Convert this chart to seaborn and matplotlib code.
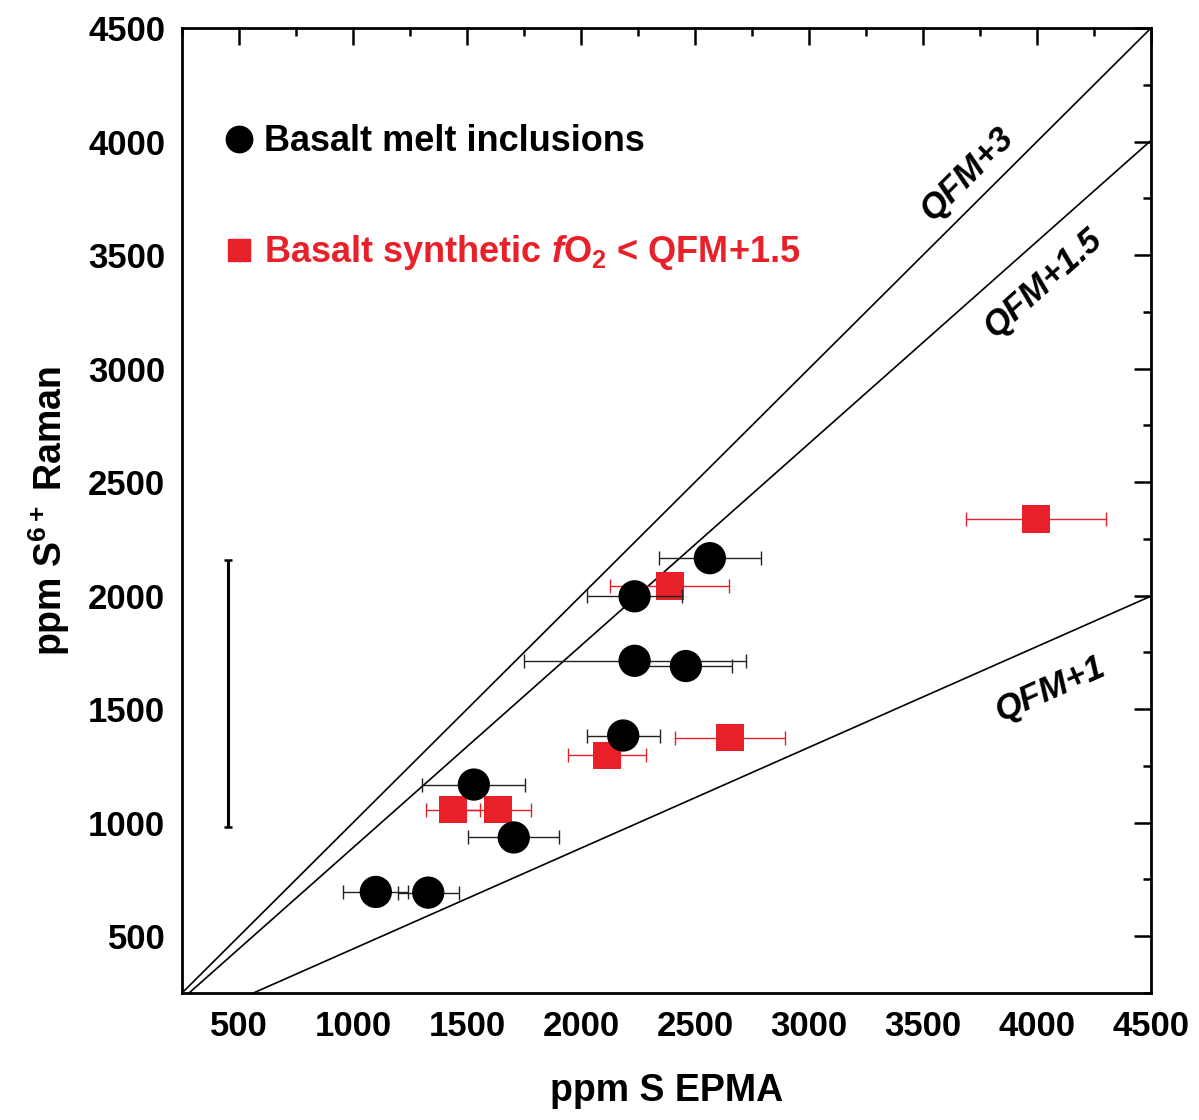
import numpy as np
import pandas as pd
import matplotlib
matplotlib.use("Agg")
import matplotlib.pyplot as plt
from matplotlib.lines import Line2D
from matplotlib.ticker import MultipleLocator
import seaborn as sns

# ---- data ----
melt_x = [2565, 2235, 2235, 2460, 2185, 1530, 1705, 1100, 1330]
melt_y = [2165, 1997, 1713, 1690, 1384, 1168, 935, 695, 692]
melt_xerr = [225, 210, 487, 202, 160, 226, 200, 143, 134]

syn_x = [3995, 2390, 2653, 2114, 1439, 1636]
syn_y = [2337, 2043, 1375, 1296, 1058, 1058]
syn_xerr = [307, 261, 241, 171, 120, 145]

rep_x = [452]
rep_y = [1570]
rep_yerr = [587]

qfm_labels = ["QFM+3", "QFM+1.5", "QFM+1"]
qfm_slopes = [1.0, 0.89, 0.444]
qfm_label_x = [3693, 4026, 4057]
qfm_label_y = [3858, 3375, 1586]
qfm_label_rot = [45, 41.6, 24]

x_ticks = [500, 1000, 1500, 2000, 2500, 3000, 3500, 4000, 4500]
y_ticks = [500, 1000, 1500, 2000, 2500, 3000, 3500, 4000, 4500]

RED = "#e8202a"

sns.set_theme(style="white")
plt.rcParams['font.family'] = ['Liberation Sans', 'DejaVu Sans']
plt.rcParams['text.color'] = 'black'
plt.rcParams['axes.labelcolor'] = 'black'
plt.rcParams['xtick.color'] = 'black'
plt.rcParams['ytick.color'] = 'black'
plt.rcParams['mathtext.fontset'] = 'custom'
plt.rcParams['mathtext.rm'] = 'Liberation Sans:bold'
plt.rcParams['mathtext.it'] = 'Liberation Sans:bold:italic'
plt.rcParams['mathtext.bf'] = 'Liberation Sans:bold'

fig = plt.figure(figsize=(11.99, 11.2), dpi=100)
ax = fig.add_axes([0.1518, 0.1134, 0.8082, 0.8616])

# reference lines
for s in qfm_slopes:
    ax.axline((0, 0), slope=s, color="black", lw=1.2, zorder=1)

# error bars
ax.errorbar(syn_x, syn_y, xerr=syn_xerr, fmt="none", ecolor=RED, elinewidth=1.0,
            capsize=5, capthick=1.0, zorder=2)
ax.errorbar(melt_x, melt_y, xerr=melt_xerr, fmt="none", ecolor="#222222", elinewidth=1.0,
            capsize=5, capthick=1.0, zorder=4)
ax.errorbar(rep_x, rep_y, yerr=rep_yerr, fmt="none", ecolor="black", elinewidth=2.2,
            capsize=3, capthick=1.8, zorder=4)

syn_df = pd.DataFrame({"x": syn_x, "y": syn_y})
melt_df = pd.DataFrame({"x": melt_x, "y": melt_y})
sns.scatterplot(data=syn_df, x="x", y="y", marker="s", s=400, color=RED,
                edgecolor="none", linewidth=0, ax=ax, zorder=3)
sns.scatterplot(data=melt_df, x="x", y="y", marker="o", s=540, color="black",
                edgecolor="none", linewidth=0, ax=ax, zorder=5)

# line labels
for lab, lx, ly, rot in zip(qfm_labels, qfm_label_x, qfm_label_y, qfm_label_rot):
    ax.text(lx, ly, lab, rotation=rot, ha="center", va="center", fontsize=25,
            fontweight="bold", fontstyle="italic", rotation_mode="anchor", color="black")

# legend
handles = [
    Line2D([], [], marker="o", color="black", linestyle="none", markersize=19),
    Line2D([], [], marker="s", color=RED, linestyle="none", markersize=16.5),
]
labels = ["Basalt melt inclusions", r"Basalt synthetic $\mathit{f}$O$_{2}$ < QFM+1.5"]
leg = ax.legend(handles, labels, loc="upper left", bbox_to_anchor=(0.025, 0.915),
                frameon=False, prop={"weight": "bold", "size": 26},
                handletextpad=0.2, labelspacing=2.05, handlelength=1.0, borderaxespad=0)
leg.get_texts()[0].set_color("black")
leg.get_texts()[1].set_color(RED)

ax.set_xlim(250, 4500)
ax.set_ylim(250, 4500)
ax.set_xticks(x_ticks)
ax.set_yticks(y_ticks)
ax.xaxis.set_minor_locator(MultipleLocator(250))
ax.yaxis.set_minor_locator(MultipleLocator(250))
ax.tick_params(which="major", direction="in", length=12, width=1.8, top=True, right=True,
               labelsize=25, pad=12)
ax.tick_params(which="minor", direction="in", length=6, width=1.8, top=True, right=True)
for lbl in ax.get_xticklabels() + ax.get_yticklabels():
    lbl.set_fontweight("bold")
for sp in ax.spines.values():
    sp.set_linewidth(2.0)
    sp.set_color("black")

ax.set_xlabel("ppm S EPMA", fontsize=27, fontweight="bold", labelpad=22)
ax.set_ylabel(r"ppm S$^{6+}$ Raman", fontsize=27, fontweight="bold", labelpad=12)

fig.savefig("out.png", dpi=100)
